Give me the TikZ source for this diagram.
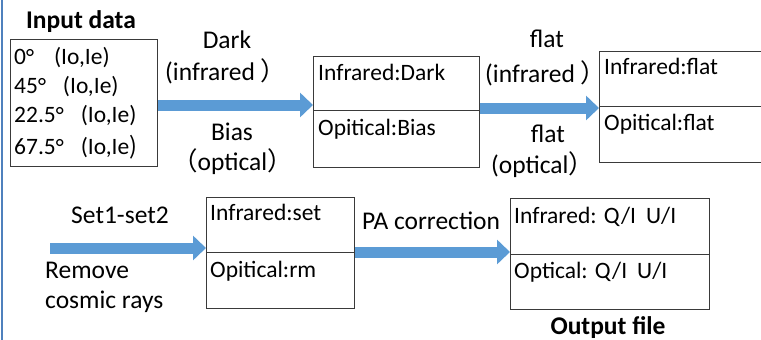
\documentclass[tikz,border=0pt]{standalone}
\usepackage{fontspec}
\setmainfont{Carlito}
\newfontfamily\cjk{Noto Sans CJK SC}
\usetikzlibrary{arrows.meta}
\definecolor{arrowblue}{HTML}{5B9BD5}
\definecolor{edgeblue}{HTML}{4F81BD}
\definecolor{boxgray}{HTML}{3A3A3A}
\newcommand{\fp}[1]{{\cjk #1}}
\tikzset{
  boxframe/.style={draw=boxgray, line width=0.9pt, rectangle, inner sep=0pt, anchor=north west},
  divider/.style={draw=boxgray, line width=0.9pt},
  boxtext/.style={anchor=base west, inner sep=0pt, font=\fontsize{23.5}{28}\selectfont},
  lbl/.style={anchor=base, inner sep=0pt, font=\fontsize{25.5}{30}\selectfont},
  lblw/.style={anchor=base west, inner sep=0pt, font=\fontsize{25.5}{30}\selectfont},
  ttl/.style={anchor=base, inner sep=0pt, font=\bfseries\fontsize{25.5}{30}\selectfont},
  bigarrow/.style={draw=arrowblue, line width=11pt, -{Triangle[length=13pt,width=24pt]}},
}
\begin{document}
\begin{tikzpicture}[x=1pt,y=-1pt]
\useasboundingbox (0,0) rectangle (761,340);
% left edge line
\draw[edgeblue, line width=2.2pt] (2,0) -- (2,340);

% Input data
\node[ttl] (intitle) at (81,28) {Input data};
\node[boxframe, minimum width=147pt, minimum height=127pt] (inp) at (10,39) {};
\node[boxtext] (l1) at (14,64) {0\raisebox{-1pt}{°}\hspace{20pt}(Io,Ie)};
\node[boxtext] (l2) at (14,93) {45\raisebox{-1pt}{°}\hspace{17pt}(Io,Ie)};
\node[boxtext] (l3) at (14,122) {22.5\raisebox{-1pt}{°}\hspace{17pt}(Io,Ie)};
\node[boxtext] (l4) at (14,154) {67.5\raisebox{-1pt}{°}\hspace{17pt}(Io,Ie\fp{)}};

% Box 2
\node[boxframe, minimum width=166pt, minimum height=111pt] (b2) at (313,56) {};
\draw[divider] (b2.west |- 0,110) -- (b2.east |- 0,110);
\node[boxtext] (b2a) at (318,80) {Infrared:Dark};
\node[boxtext] (b2b) at (318,135) {Opitical:Bias};

% Box 3
\node[boxframe, minimum width=170pt, minimum height=111pt] (b3) at (599,51) {};
\draw[divider] (b3.west |- 0,106) -- (b3.east |- 0,106);
\node[boxtext] (b3a) at (604,74) {Infrared:flat};
\node[boxtext] (b3b) at (604,130) {Opitical:flat};

% Box 4
\node[boxframe, minimum width=148pt, minimum height=111pt] (b4) at (206,197) {};
\draw[divider] (b4.west |- 0,252) -- (b4.east |- 0,252);
\node[boxtext] (b4a) at (210,220) {Infrared:set};
\node[boxtext] (b4b) at (210,277) {Opitical:rm};

% Box 5
\node[boxframe, minimum width=199pt, minimum height=111pt] (b5) at (510,198) {};
\draw[divider] (b5.west |- 0,254) -- (b5.east |- 0,254);
\node[boxtext] (b5a) at (514,223) {Infrared: Q/I\hspace{10pt}U/I};
\node[boxtext] (b5b) at (514,278) {Optical: Q/I\hspace{10pt}U/I};
\node[ttl] (outtitle) at (608,334) {Output file};

% Arrows
\draw[bigarrow] (inp.east |- 0,105) -- (b2.west |- 0,105);
\draw[bigarrow] (b2.east |- 0,108) -- (b3.west |- 0,108);
\coordinate (start3) at (50,248);
\draw[bigarrow] (start3) -- (b4.west |- start3);
\draw[bigarrow] (b4.east |- 0,252) -- (b5.west |- 0,252);

% Labels arrow 1
\node[lbl] (d1) at (227,48) {Dark};
\node[lblw] (d2) at (165,80) {(infrared\hspace{5pt}\fp{）}};
\node[lbl] (d3) at (232,140) {Bias};
\node[lblw] (d4) at (172,170) {\fp{（}optical\fp{）}};

% Labels arrow 2
\node[lbl] (f1) at (547,47) {flat};
\node[lblw] (f2) at (485,82) {(infrared\hspace{5pt}\fp{）}};
\node[lbl] (f3) at (548,142) {flat};
\node[lblw] (f4) at (491,173) {(optical\fp{）}};

% Labels arrow 3
\node[lbl] (s1) at (120,223) {Set1-set2};
\node[lblw] (s2) at (45,278) {Remove};
\node[lblw] (s3) at (45,308) {cosmic rays};

% Label arrow 4
\node[lblw] (pa) at (362,229) {PA correction};
\end{tikzpicture}
\end{document}
